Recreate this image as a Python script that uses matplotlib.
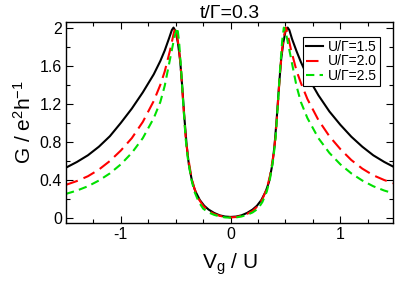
import matplotlib
matplotlib.use("Agg")
import matplotlib.pyplot as plt
from matplotlib.ticker import MultipleLocator, FixedLocator

plt.rcParams['font.family'] = ['Liberation Sans', 'DejaVu Sans']
plt.rcParams['mathtext.fontset'] = 'custom'
plt.rcParams['mathtext.rm'] = 'Liberation Sans'
plt.rcParams['mathtext.it'] = 'Liberation Sans'

# ---- data ----
labels = ["U/\u0393=1.5", "U/\u0393=2.0", "U/\u0393=2.5"]
colors = ["black", "red", "#00e000"]

v_black = [-1.5, -1.4, -1.3, -1.2, -1.1, -1.0, -0.9, -0.8, -0.7, -0.64, -0.6, -0.56, -0.535, -0.52,
           -0.50, -0.48, -0.46, -0.44, -0.42, -0.40, -0.38, -0.35, -0.32, -0.28, -0.24, -0.20,
           -0.15, -0.10, -0.05, 0.0,
           0.05, 0.10, 0.15, 0.20, 0.24, 0.28, 0.32, 0.35, 0.38, 0.40, 0.42, 0.44, 0.46, 0.48,
           0.50, 0.52, 0.535, 0.56, 0.6, 0.64, 0.7, 0.8, 0.9, 1.0, 1.1, 1.2, 1.3, 1.4, 1.5]
g_black = [0.53, 0.59, 0.66, 0.75, 0.86, 1.0, 1.15, 1.32, 1.51, 1.65, 1.76, 1.89, 1.975, 2.0,
           1.96, 1.84, 1.66, 1.37, 1.04, 0.76, 0.56, 0.38, 0.28, 0.19, 0.13, 0.09,
           0.055, 0.03, 0.017, 0.013,
           0.017, 0.03, 0.055, 0.09, 0.13, 0.19, 0.28, 0.38, 0.56, 0.76, 1.04, 1.37, 1.66, 1.84,
           1.96, 2.0, 1.975, 1.88, 1.755, 1.64, 1.49, 1.29, 1.12, 0.98, 0.855, 0.75, 0.66, 0.59, 0.53]

v_red = [-1.5, -1.4, -1.3, -1.2, -1.1, -1.0, -0.9, -0.8, -0.7, -0.64, -0.6, -0.55, -0.52, -0.505,
         -0.49, -0.47, -0.45, -0.43, -0.41, -0.39, -0.36, -0.33, -0.29, -0.25, -0.20, -0.15,
         -0.10, -0.05, 0.0,
         0.05, 0.10, 0.15, 0.20, 0.25, 0.29, 0.33, 0.36, 0.39, 0.41, 0.43, 0.45, 0.47, 0.49,
         0.505, 0.52, 0.55, 0.6, 0.64, 0.7, 0.8, 0.9, 1.0, 1.1, 1.2, 1.3, 1.4, 1.5]
g_red = [0.35, 0.39, 0.44, 0.51, 0.60, 0.71, 0.84, 1.01, 1.23, 1.40, 1.54, 1.77, 1.93, 2.0,
         1.93, 1.78, 1.52, 1.18, 0.86, 0.66, 0.45, 0.31, 0.20, 0.13, 0.075, 0.045,
         0.025, 0.012, 0.008,
         0.012, 0.025, 0.045, 0.075, 0.13, 0.20, 0.31, 0.45, 0.66, 0.86, 1.18, 1.52, 1.78, 1.93,
         2.0, 1.93, 1.77, 1.55, 1.42, 1.25, 1.03, 0.86, 0.725, 0.61, 0.52, 0.45, 0.40, 0.36]

v_green = [-1.5, -1.4, -1.3, -1.2, -1.1, -1.0, -0.9, -0.8, -0.7, -0.64, -0.6, -0.55, -0.51, -0.485,
           -0.47, -0.45, -0.43, -0.41, -0.39, -0.36, -0.33, -0.29, -0.25, -0.20, -0.15,
           -0.10, -0.05, 0.0,
           0.05, 0.10, 0.15, 0.20, 0.25, 0.29, 0.33, 0.36, 0.39, 0.41, 0.43, 0.45, 0.47,
           0.485, 0.51, 0.55, 0.6, 0.64, 0.7, 0.8, 0.9, 1.0, 1.1, 1.2, 1.3, 1.4, 1.5]
g_green = [0.255, 0.29, 0.335, 0.395, 0.47, 0.565, 0.685, 0.84, 1.05, 1.22, 1.39, 1.68, 1.91, 2.0,
           1.86, 1.55, 1.18, 0.84, 0.63, 0.42, 0.28, 0.17, 0.10, 0.06, 0.035,
           0.018, 0.008, 0.005,
           0.008, 0.018, 0.035, 0.06, 0.10, 0.17, 0.28, 0.42, 0.63, 0.84, 1.18, 1.55, 1.86,
           2.0, 1.91, 1.68, 1.39, 1.22, 1.05, 0.84, 0.685, 0.565, 0.47, 0.395, 0.335, 0.29, 0.255]

xticks = [-1, 0, 1]
xticklabels = ["-1", "0", "1"]
yticks = [0, 0.4, 0.8, 1.2, 1.6, 2.0]
yticklabels = ["0", "0.4", "0.8", "1.2", "1.6", "2"]

# ---- figure ----
fig = plt.figure(figsize=(3.95, 2.84), dpi=100)
ax = fig.add_axes([0.167, 0.215, 0.828, 0.708])

ax.plot(v_black, g_black, color=colors[0], lw=1.5, label=labels[0])
ax.plot(v_red, g_red, color=colors[1], lw=1.5, dashes=(6, 3), label=labels[1])
ax.plot(v_green, g_green, color=colors[2], lw=1.5, dashes=(4, 2.5), label=labels[2])

ax.set_xlim(-1.5, 1.48)
ax.set_ylim(-0.05, 2.06)

ax.xaxis.set_major_locator(FixedLocator(xticks))
ax.set_xticklabels(xticklabels)
ax.xaxis.set_minor_locator(MultipleLocator(0.25))
ax.yaxis.set_major_locator(FixedLocator(yticks))
ax.set_yticklabels(yticklabels)
ax.yaxis.set_minor_locator(MultipleLocator(0.2))

ax.tick_params(which='both', direction='in', top=True, right=True, labelsize=11.5, width=0.8)
ax.tick_params(which='major', length=5, pad=3)
ax.tick_params(which='minor', length=3)
for s in ax.spines.values():
    s.set_linewidth(1.0)

ax.set_xlabel(r"V$_\mathrm{g}$ / U", fontsize=15, labelpad=7)
ax.set_ylabel(r"G / e$^2$h$^{-1}$", fontsize=15, labelpad=3)
ax.set_title("t/\u0393=0.3", fontsize=14, pad=2.5)

leg = ax.legend(loc='upper right', bbox_to_anchor=(0.96, 0.925), fontsize=10,
                frameon=True, fancybox=False, edgecolor='black', framealpha=1,
                handlelength=1.25, handletextpad=0.35, borderpad=0.2, labelspacing=0.05,
                borderaxespad=0)
leg.get_frame().set_linewidth(0.8)

fig.savefig("out.png", dpi=100)
